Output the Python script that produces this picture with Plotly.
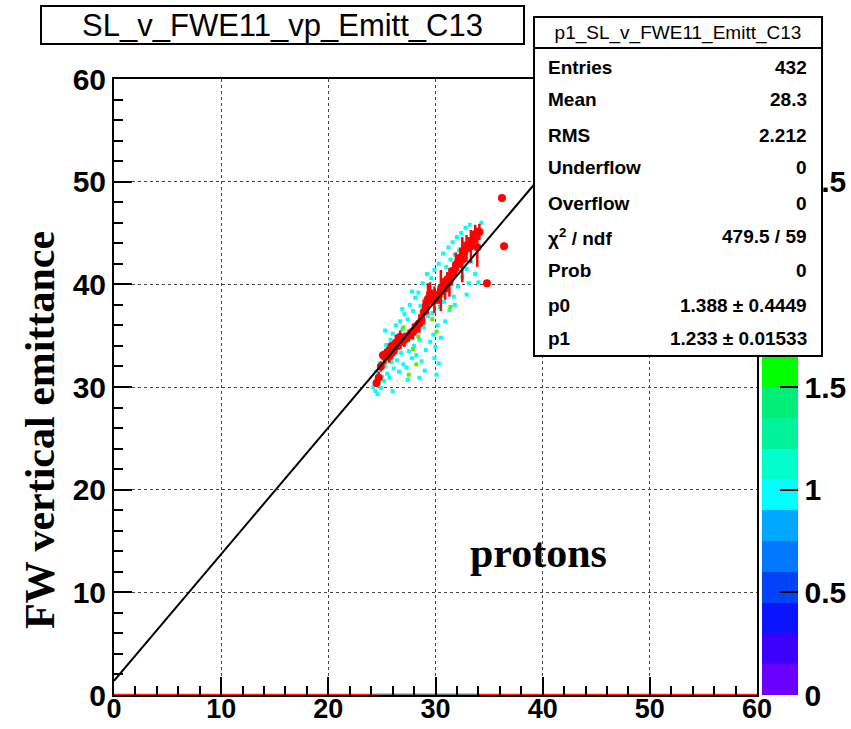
import plotly.graph_objects as go

# ---------------- data ----------------
# TH2 bins (x, y, entries)
cyan_x = [24.2, 24.4, 24.5, 24.7, 24.8, 24.9, 25.0, 25.1, 25.2, 25.3, 25.4, 25.5, 25.6, 25.7, 25.8, 25.9,
          26.0, 26.1, 26.2, 26.3, 26.4, 26.5, 26.6, 26.7, 26.8, 26.9, 27.0, 27.1, 27.2, 27.3, 27.4, 27.5,
          27.6, 27.7, 27.8, 27.9, 28.0, 28.1, 28.2, 28.3, 28.4, 28.5, 28.6, 28.7, 28.8, 28.9, 29.0, 29.1,
          29.2, 29.3, 29.4, 29.5, 29.6, 29.7, 29.8, 29.9, 30.0, 30.1, 30.2, 30.3, 30.4, 30.5, 30.6, 30.7,
          30.8, 30.9, 31.0, 31.1, 31.2, 31.3, 31.4, 31.5, 31.6, 31.7, 31.8, 31.9, 32.0, 32.1, 32.2, 32.3,
          32.4, 32.5, 32.6, 32.7, 32.8, 32.9, 33.0, 33.2, 33.3, 33.5, 33.7, 33.9, 34.1, 34.3, 34.0,
          26.0, 27.4, 29.0, 30.3, 25.3, 27.8, 31.8, 32.9, 28.5, 24.6, 26.9, 29.9, 30.1, 33.1]
cyan_y = [30.0, 29.6, 31.5, 30.4, 32.3, 29.9, 31.0, 33.2, 30.6, 32.0, 34.1, 31.3, 33.0, 30.9, 34.6, 32.4,
          35.2, 31.8, 33.8, 36.0, 32.6, 34.9, 31.5, 36.4, 33.3, 35.6, 32.2, 37.1, 34.2, 31.9, 36.6, 33.5,
          38.0, 35.0, 32.8, 37.4, 34.0, 38.7, 33.1, 36.3, 39.2, 34.6, 37.9, 32.5, 40.1, 35.8, 38.5, 33.6,
          41.0, 36.9, 39.6, 34.4, 40.6, 37.2, 35.1, 41.4, 33.9, 39.0, 36.0, 42.0, 37.8, 34.8, 40.3, 43.0,
          38.3, 36.4, 41.7, 39.4, 43.6, 37.5, 42.4, 40.5, 44.1, 38.8, 42.9, 41.2, 44.6, 39.8, 43.3, 41.9,
          45.0, 40.7, 44.0, 42.6, 45.5, 41.5, 43.9, 45.8, 42.2, 44.7, 41.0, 45.3, 43.5, 46.0, 40.2,
          29.6, 30.7, 31.6, 32.3, 35.5, 39.3, 38.0, 39.0, 30.9, 29.3, 37.6, 32.8, 31.2, 40.1]
green_x = [25.6, 26.3, 27.0, 27.5, 27.9, 28.4, 28.9, 29.3, 29.7, 30.1, 30.6, 31.4, 24.9, 28.2]
green_y = [32.5, 33.6, 35.8, 31.2, 33.7, 34.9, 36.2, 38.3, 36.6, 35.4, 38.9, 37.8, 30.8, 32.2]
th2_x = cyan_x + green_x
th2_y = cyan_y + green_y
th2_entries = [1] * len(cyan_x) + [2] * len(green_x)

# TProfile p1 (bin centre, mean, error)
prof_x = [24.5, 24.7, 24.9, 25.1, 25.3, 25.5, 25.7, 25.9, 26.1, 26.3, 26.5, 26.7, 26.9, 27.1, 27.3, 27.5,
          27.7, 27.9, 28.1, 28.3, 28.5, 28.7, 28.9, 29.1, 29.3, 29.5, 29.7, 29.9, 30.1, 30.3, 30.5, 30.7,
          30.9, 31.1, 31.3, 31.5, 31.7, 31.9, 32.1, 32.3, 32.5, 32.7, 32.9, 33.1, 33.3, 33.5, 33.7, 33.9,
          34.1, 34.8, 36.2, 36.4]
prof_y = [30.4, 30.9, 32.0, 33.1, 32.9, 33.4, 33.0, 34.0, 33.5, 34.3, 34.0, 34.9, 34.5, 34.6, 34.8, 35.0,
          35.2, 35.4, 35.6, 36.0, 36.2, 36.5, 37.3, 37.9, 38.6, 39.1, 38.8, 38.5, 38.7, 39.0, 39.4, 39.8,
          39.6, 40.5, 40.2, 40.8, 41.3, 41.9, 42.1, 42.6, 42.4, 43.2, 43.5, 43.9, 43.7, 44.3, 44.9, 43.6,
          45.1, 40.1, 48.4, 43.7]
prof_err = [0.4, 0.6, 0.5, 0.4, 0.7, 0.5, 0.6, 0.4, 0.5, 0.8, 0.4, 0.6, 0.5, 0.7, 0.4, 0.6,
            0.5, 0.8, 0.6, 0.5, 0.9, 0.6, 1.2, 0.8, 1.5, 1.1, 0.7, 1.3, 0.6, 0.9, 2.0, 0.8,
            1.1, 0.7, 1.4, 0.9, 0.6, 1.2, 0.8, 1.0, 2.2, 0.9, 1.3, 0.7, 1.6, 0.8, 0.9, 1.9,
            0.8, 0.0, 0.0, 0.0]

# pol1 fit
fit_p0 = 1.388
fit_p1 = 1.233
fit_range = [0, 60]

stats_labels = ["Entries", "Mean", "RMS", "Underflow", "Overflow", "χ<sup>2</sup> / ndf", "Prob", "p0", "p1"]
stats_values = ["432", "28.3", "2.212", "0", "0", "479.5 / 59", "0", "1.388 ± 0.4449", "1.233 ± 0.01533"]

palette = ["#6a00ff", "#3c00ff", "#0a14ff", "#0044f5", "#0078ff", "#00a8ff", "#00ffff", "#00ffcc",
           "#00f29a", "#00ee78", "#00ff00", "#44ff00", "#66f000", "#66e800", "#d8ff00", "#ffee00",
           "#ffc000", "#ff9000", "#ff5a00", "#ff0000"]
z_max = 3.0
cbar_ticks = [0, 0.5, 1, 1.5, 2, 2.5]

# ---------------- geometry helpers ----------------
W, H = 851, 729
L, R, T, B = 114, 757, 79, 695
def px(xp):
    return (xp - L) / (R - L)
def py(yp):
    return (B - yp) / (B - T)

colorscale = []
n = len(palette)
for i, c in enumerate(palette):
    colorscale.append([i / n, c])
    colorscale.append([(i + 1) / n, c])

fig = go.Figure()

# empty profile bins along zero
fig.add_trace(go.Scatter(x=[0, 60], y=[0, 0], mode="lines",
                         line=dict(color="#ff2020", width=2.5), hoverinfo="skip", showlegend=False))
fig.add_trace(go.Scatter(x=[24.5, 34.0], y=[0, 0], mode="lines",
                         line=dict(color="#777777", width=2.5), hoverinfo="skip", showlegend=False))

# TH2 colz bins
fig.add_trace(go.Scatter(
    x=th2_x, y=th2_y, mode="markers",
    marker=dict(symbol="square", size=4, color=th2_entries, colorscale=colorscale, cmin=0, cmax=z_max,
                line=dict(width=0),
                colorbar=dict(x=1 + 5 / (R - L), xanchor="left", y=0, yanchor="bottom", len=1,
                              lenmode="fraction", thickness=36, thicknessmode="pixels",
                              outlinewidth=0, xpad=0, ypad=0,
                              tickvals=cbar_ticks, ticktext=[str(t) for t in cbar_ticks],
                              ticks="inside", ticklen=18, tickcolor="black", tickwidth=2,
                              tickfont=dict(family="Liberation Sans", size=30, color="black", weight="bold"))),
    showlegend=False))

# profile points
fig.add_trace(go.Scatter(
    x=prof_x, y=prof_y, mode="markers",
    marker=dict(symbol="circle", size=8, color="#ff0000"),
    error_y=dict(type="data", array=prof_err, color="#ff0000", thickness=2.5, width=0),
    showlegend=False))

# fit line
fit_y = [fit_p0 + fit_p1 * x for x in fit_range]
fig.add_trace(go.Scatter(x=fit_range, y=fit_y, mode="lines",
                         line=dict(color="black", width=2), showlegend=False))

axis_common = dict(range=[0, 60], dtick=10, tick0=0, ticks="inside", ticklen=18, tickwidth=1.5,
                   tickcolor="black", showline=True, linecolor="black", linewidth=2, mirror=True,
                   showgrid=True, gridcolor="#444444", griddash="dot", gridwidth=1, zeroline=False,
                   minor=dict(dtick=2, ticks="inside", ticklen=9, tickcolor="black", tickwidth=1.5, showgrid=False),
                   tickfont=dict(family="Liberation Sans", size=30, color="black", weight="bold"))

fig.update_layout(
    width=W, height=H,
    margin=dict(l=L, r=W - R, t=T, b=H - B, pad=0, autoexpand=False),
    paper_bgcolor="white", plot_bgcolor="white",
    xaxis=dict(axis_common, ticklabelstandoff=-11,
               tickfont=dict(family="Liberation Sans", size=27, color="black", weight="bold")),
    yaxis=axis_common,
)

ann = []
# y title
ann.append(dict(text="<b>FW vertical emittance</b>", x=px(40), y=py(430), xref="paper", yref="paper",
                textangle=-90, showarrow=False, xanchor="center", yanchor="middle",
                font=dict(family="Liberation Serif", size=42, color="black")))
ann.append(dict(text="<b>protons</b>", x=39.6, y=13.8, xref="x", yref="y", showarrow=False,
                font=dict(family="Liberation Serif", size=42, color="black")))
# title box
ann.append(dict(text="SL_v_FWE11_vp_Emitt_C13", x=px(40), y=py(5), xref="paper", yref="paper",
                xanchor="left", yanchor="top", showarrow=False, width=481, height=36,
                bgcolor="white", bordercolor="black", borderwidth=2, borderpad=0,
                font=dict(family="Liberation Sans", size=31, color="black")))
# stats box
ann.append(dict(text="", x=px(533), y=py(16), xref="paper", yref="paper",
                xanchor="left", yanchor="top", showarrow=False, width=286, height=337,
                bgcolor="white", bordercolor="black", borderwidth=2, borderpad=0))
ann.append(dict(text="p1_SL_v_FWE11_Emitt_C13", x=px(533), y=py(16), xref="paper", yref="paper",
                xanchor="left", yanchor="top", showarrow=False, width=286, height=29,
                bgcolor="white", bordercolor="black", borderwidth=2, borderpad=0,
                font=dict(family="Liberation Sans", size=19, color="black")))
row_y = [67, 100, 135, 168, 203, 237, 270, 305, 338]
for lab, val, yy in zip(stats_labels, stats_values, row_y):
    ann.append(dict(text="<b>" + lab + "</b>", x=px(546), y=py(yy), xref="paper", yref="paper",
                    xanchor="left", yanchor="middle", showarrow=False,
                    font=dict(family="Liberation Sans", size=19, color="black")))
    ann.append(dict(text="<b>" + val + "</b>", x=px(809), y=py(yy), xref="paper", yref="paper",
                    xanchor="right", yanchor="middle", showarrow=False,
                    font=dict(family="Liberation Sans", size=19, color="black")))
fig.update_layout(annotations=ann)

fig.write_html("out.html")
